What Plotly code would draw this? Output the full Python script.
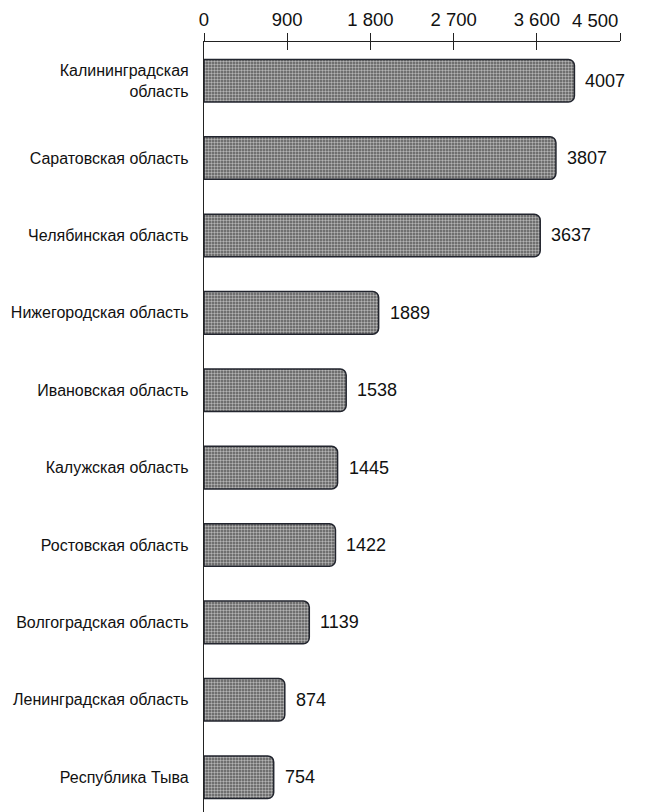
import plotly.graph_objects as go

regions = [
    "Калининградская<br>область",
    "Саратовская область",
    "Челябинская область",
    "Нижегородская область",
    "Ивановская область",
    "Калужская область",
    "Ростовская область",
    "Волгоградская область",
    "Ленинградская область",
    "Республика Тыва",
]
values = [4007, 3807, 3637, 1889, 1538, 1445, 1422, 1139, 874, 754]
tick_vals = [0, 900, 1800, 2700, 3600, 4500]
tick_text = ["0", "900", "1 800", "2 700", "3 600", "4 500"]

FONT = "Liberation Sans, Arial"
TICK_SIZE = 18.5

fig = go.Figure()
fig.add_trace(go.Bar(
    y=list(range(len(regions))),
    x=values,
    orientation="h",
    marker=dict(
        color="#808080",
        line=dict(color="#22252e", width=1.5),
        cornerradius=6,
        pattern=dict(shape=".", fgcolor="#b4b4b4", bgcolor="#585858",
                     size=3, solidity=0.5, fillmode="replace"),
    ),
    width=0.55,
    hoverinfo="skip",
))
fig.add_trace(go.Scatter(x=[0], y=[0], xaxis="x2", mode="markers",
                         marker=dict(opacity=0), hoverinfo="skip", showlegend=False))

for i, v in enumerate(values):
    fig.add_annotation(x=v, y=i, text=str(v), showarrow=False,
                       xanchor="left", xshift=9,
                       font=dict(family=FONT, size=18, color="#111111"))

# last tick label kept inside the figure (right-aligned to its tick)
fig.add_annotation(x=tick_vals[-1], y=1, xref="x", yref="paper", yanchor="bottom",
                   xanchor="right", yshift=9, text=tick_text[-1], showarrow=False,
                   font=dict(family=FONT, size=TICK_SIZE, color="#111111"))

fig.update_layout(
    width=640, height=804,
    margin=dict(l=196, r=28, t=34, b=0),
    paper_bgcolor="white", plot_bgcolor="white",
    showlegend=False,
    font=dict(family=FONT, color="#111111"),
    xaxis=dict(
        side="top", range=[0, 4500], tickvals=tick_vals,
        ticktext=tick_text[:-1] + [""],
        showgrid=False, zeroline=False, showline=True, linecolor="#222222", linewidth=1.2,
        ticks="outside", ticklen=8, tickcolor="#222222", tickwidth=1.2,
        tickfont=dict(size=TICK_SIZE, family=FONT), automargin=False,
    ),
    xaxis2=dict(
        overlaying="x", side="top", range=[0, 4500], tickvals=tick_vals,
        showticklabels=False, showgrid=False, zeroline=False, showline=False,
        ticks="inside", ticklen=8, tickcolor="#222222", tickwidth=1.2, automargin=False,
    ),
    yaxis=dict(
        range=[9.45, -0.5], tickvals=list(range(len(regions))), ticktext=regions,
        showgrid=False, zeroline=False, showline=True, linecolor="#222222", linewidth=1.2,
        ticks="", tickfont=dict(size=16, family=FONT),
        ticklabelstandoff=11, automargin=False,
    ),
)

fig.write_html("out.html")
